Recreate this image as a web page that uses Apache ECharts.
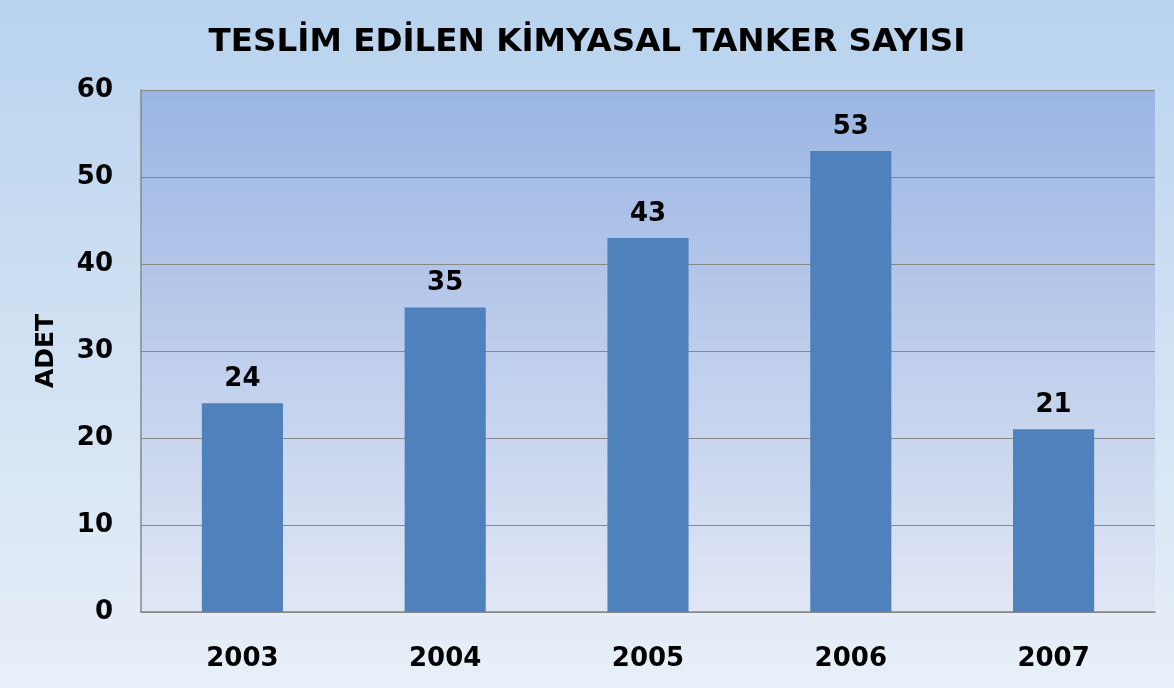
<!DOCTYPE html>
<html><head><meta charset="utf-8">
<script src="https://cdn.jsdelivr.net/npm/echarts@6/dist/echarts.min.js"></script>
<style>html,body{margin:0;padding:0;}#c{width:1174px;height:688px;}</style>
</head><body><div id="c"></div>
<script>
const categories = ['2003','2004','2005','2006','2007'];
const values = [24, 35, 43, 53, 21];
const title = 'TESLİM EDİLEN KİMYASAL TANKER SAYISI';
const yName = 'ADET';
const FONT = 'DejaVu Sans';
const chart = echarts.init(document.getElementById('c'));
chart.setOption({
  animation: false,
  backgroundColor: new echarts.graphic.LinearGradient(0,0,0,1,[{offset:0,color:'#b8d3ee'},{offset:1,color:'#e8eff8'}]),
  title: {text: title, left: 'center', top: 21, textStyle:{fontFamily:FONT, fontWeight:'bold', fontSize:32.6, color:'#000'}},
  grid: {left:141, right:19, top:90, bottom:76, show:true, borderWidth:0,
    backgroundColor: new echarts.graphic.LinearGradient(0,0,0,1,[{offset:0,color:'#9bb5e3'},{offset:1,color:'#e0e6f4'}])},
  xAxis: {type:'category', data: categories,
    axisLine:{lineStyle:{color:'#888', width:1.5}}, axisTick:{show:false},
    axisLabel:{fontFamily:FONT, fontWeight:'bold', fontSize:26, color:'#000', margin:34}},
  yAxis: {type:'value', min:0, max:60, interval:10, name: yName, nameLocation:'middle', nameGap:82, nameRotate:90,
    nameTextStyle:{fontFamily:FONT, fontWeight:'bold', fontSize:25, color:'#000'},
    axisLine:{show:true, lineStyle:{color:'#888', width:1.5}}, axisTick:{show:false},
    splitLine:{lineStyle:{color:'#888', width:1}},
    axisLabel:{fontFamily:FONT, fontWeight:'bold', fontSize:26, color:'#000', margin:28, padding:[4,0,0,0]}},
  series: [{type:'bar', data: values, barWidth:'40%', itemStyle:{color:'#4f81bd'},
    label:{show:true, position:'top', distance:11, fontFamily:FONT, fontWeight:'bold', fontSize:26, color:'#000'}}]
});
</script></body></html>
